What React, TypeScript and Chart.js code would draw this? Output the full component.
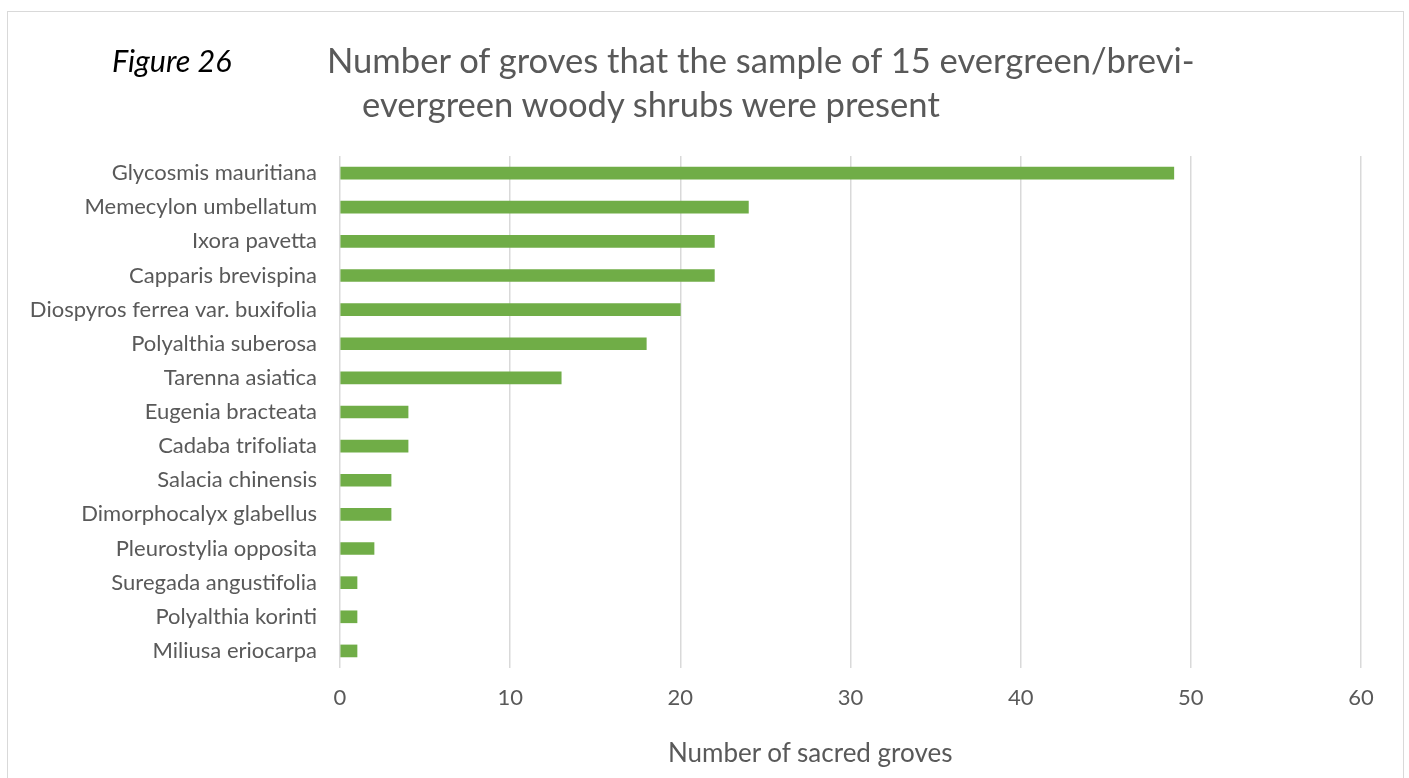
import React, { useEffect, useRef } from "react";
import { Chart, registerables } from "chart.js";

Chart.register(...registerables);

const categories = [
  "Glycosmis mauritiana",
  "Memecylon umbellatum",
  "Ixora pavetta",
  "Capparis brevispina",
  "Diospyros ferrea var. buxifolia",
  "Polyalthia suberosa",
  "Tarenna asiatica",
  "Eugenia bracteata",
  "Cadaba trifoliata",
  "Salacia chinensis",
  "Dimorphocalyx glabellus",
  "Pleurostylia opposita",
  "Suregada angustifolia",
  "Polyalthia korinti",
  "Miliusa eriocarpa",
];

const groves = [49, 24, 22, 22, 20, 18, 13, 4, 4, 3, 3, 2, 1, 1, 1];

const xMin = 0;
const xMax = 60;
const xStep = 10;

const figureLabel = "Figure 26";
const titleLine1 = "Number of groves that the sample of 15 evergreen/brevi-";
const titleLine2 = "evergreen woody shrubs were present";
const xAxisTitle = "Number of sacred groves";

const FONT = "Lato, 'Open Sans', sans-serif";
const TEXT = "#595959";

export default function App() {
  const canvasRef = useRef<HTMLCanvasElement | null>(null);

  useEffect(() => {
    const canvas = canvasRef.current;
    if (!canvas) return;
    const chart = new Chart(canvas, {
      type: "bar",
      data: {
        labels: categories,
        datasets: [
          {
            data: groves,
            backgroundColor: "#70AD47",
            borderWidth: 0,
            barThickness: 12,
          },
        ],
      },
      options: {
        indexAxis: "y",
        responsive: false,
        animation: false,
        layout: { padding: { top: 156, right: 48, left: 0, bottom: 0 } },
        plugins: {
          legend: { display: false },
          tooltip: { enabled: false },
          title: { display: false },
        },
        scales: {
          x: {
            min: xMin,
            max: xMax,
            ticks: {
              stepSize: xStep,
              color: TEXT,
              font: { family: FONT, size: 22 },
              padding: 17,
            },
            grid: { color: "#d9d9d9", lineWidth: 1.5, drawTicks: false },
            border: { display: false },
            afterFit: (scale: any) => {
              scale.height = 110;
            },
          },
          y: {
            ticks: {
              color: TEXT,
              font: { family: FONT, size: 22 },
              padding: 23,
              autoSkip: false,
            },
            grid: { display: false, drawTicks: false },
            border: { display: false },
            afterFit: (scale: any) => {
              scale.width = 340;
            },
          },
        },
      },
    });
    return () => chart.destroy();
  }, []);

  return (
    <div
      style={{
        position: "absolute",
        left: 0,
        top: 0,
        width: 1409,
        height: 778,
        overflow: "hidden",
        background: "#fff",
        fontFamily: FONT,
      }}
    >
      <div
        style={{
          position: "absolute",
          left: 7,
          top: 11,
          width: 1395,
          height: 800,
          border: "1px solid #d9d9d9",
        }}
      />
      <canvas
        ref={canvasRef}
        width={1409}
        height={778}
        style={{ position: "absolute", left: 0, top: 0, display: "block" }}
      />
      <div
        style={{
          position: "absolute",
          left: 112,
          top: 42,
          fontSize: 30.5,
          fontStyle: "italic",
          color: "#000",
          lineHeight: "36px",
          whiteSpace: "nowrap",
        }}
      >
        {figureLabel}
      </div>
      <div
        style={{
          position: "absolute",
          left: 327,
          top: 38,
          fontSize: 34.6,
          color: TEXT,
          lineHeight: "44px",
          whiteSpace: "nowrap",
        }}
      >
        {titleLine1}
      </div>
      <div
        style={{
          position: "absolute",
          left: 362,
          top: 82,
          fontSize: 34.6,
          color: TEXT,
          lineHeight: "44px",
          whiteSpace: "nowrap",
        }}
      >
        {titleLine2}
      </div>
      <div
        style={{
          position: "absolute",
          left: 668,
          top: 736,
          fontSize: 26,
          color: TEXT,
          lineHeight: "32px",
          whiteSpace: "nowrap",
        }}
      >
        {xAxisTitle}
      </div>
    </div>
  );
}
